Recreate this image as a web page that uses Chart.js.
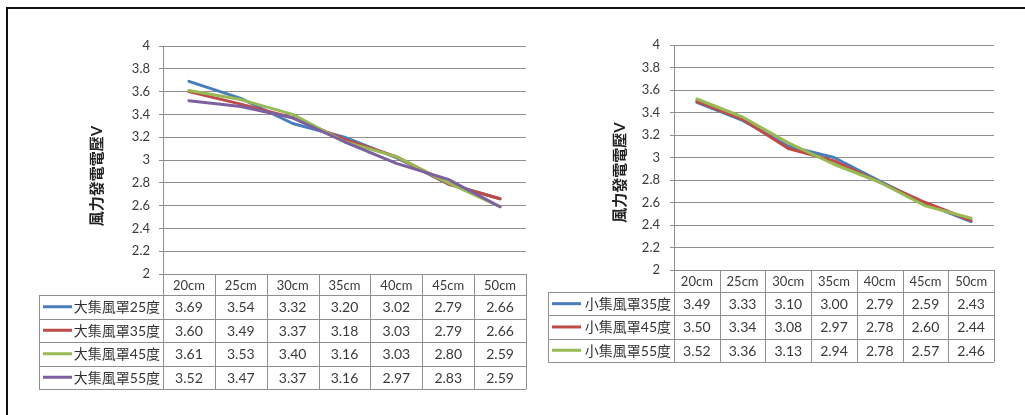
<!DOCTYPE html>
<html>
<head>
<meta charset="utf-8">
<script src="https://cdn.jsdelivr.net/npm/chart.js@4/dist/chart.umd.min.js"></script>
<style>
  body { margin: 0; background: #fff; width: 1025px; height: 415px; overflow: hidden; position: relative; }
  #frame { position: absolute; left: 6px; top: 7px; width: 1100px; height: 500px; border: 2px solid #111; }
  canvas { position: absolute; top: 0; }
  #left { left: 0; }
  #right { left: 530px; }
</style>
</head>
<body>
<div id="frame"></div>
<canvas id="left" width="530" height="415"></canvas>
<canvas id="right" width="495" height="415"></canvas>
<script>
const distances = ['20cm', '25cm', '30cm', '35cm', '40cm', '45cm', '50cm'];

// 大集風罩 series
const bigNames = ['大集風罩25度', '大集風罩35度', '大集風罩45度', '大集風罩55度'];
const big25 = [3.69, 3.54, 3.32, 3.20, 3.02, 2.79, 2.66];
const big35 = [3.60, 3.49, 3.37, 3.18, 3.03, 2.79, 2.66];
const big45 = [3.61, 3.53, 3.40, 3.16, 3.03, 2.80, 2.59];
const big55 = [3.52, 3.47, 3.37, 3.16, 2.97, 2.83, 2.59];

// 小集風罩 series
const smallNames = ['小集風罩35度', '小集風罩45度', '小集風罩55度'];
const small35 = [3.49, 3.33, 3.10, 3.00, 2.79, 2.59, 2.43];
const small45 = [3.50, 3.34, 3.08, 2.97, 2.78, 2.60, 2.44];
const small55 = [3.52, 3.36, 3.13, 2.94, 2.78, 2.57, 2.46];

const yTitle = '風力發電電壓V';
const yMin = 2, yMax = 4, yStep = 0.2;

const colors = ['#4a7ebb', '#be4b48', '#98b954', '#7d60a0'];
const gridColor = '#8f8f8f';
const textColor = '#3a3a3a';
const fam = 'Lato, "Noto Sans CJK TC", sans-serif';

Chart.defaults.font.family = fam;
Chart.defaults.animation = false;

// data table drawn under the plot, columns taken from the x scale
const tablePlugin = {
  id: 'dataTable',
  afterDraw(chart, args, opts) {
    const { ctx, chartArea } = chart;
    const xs = chart.scales.x;
    const n = chart.data.labels.length;
    const edges = [];
    for (let i = 0; i <= n; i++) {
      if (i === 0) edges.push(chartArea.left);
      else if (i === n) edges.push(chartArea.right);
      else edges.push((xs.getPixelForValue(i - 1) + xs.getPixelForValue(i)) / 2);
    }
    const top = chartArea.bottom;
    const rowsTop = top + opts.headerHeight;
    const sets = chart.data.datasets;
    const bottom = rowsTop + sets.length * opts.rowHeight;
    const px = v => Math.round(v) + 0.5;

    ctx.save();
    ctx.strokeStyle = gridColor;
    ctx.lineWidth = 1;
    ctx.beginPath();
    ctx.moveTo(edges[0], px(top));
    ctx.lineTo(edges[n], px(top));
    for (let r = 0; r <= sets.length; r++) {
      const y = px(rowsTop + r * opts.rowHeight);
      ctx.moveTo(opts.legendLeft, y);
      ctx.lineTo(edges[n], y);
    }
    edges.forEach(x => {
      ctx.moveTo(px(x), top);
      ctx.lineTo(px(x), bottom);
    });
    ctx.moveTo(px(opts.legendLeft), rowsTop);
    ctx.lineTo(px(opts.legendLeft), bottom);
    ctx.stroke();

    ctx.textBaseline = 'middle';
    ctx.textAlign = 'center';
    ctx.fillStyle = textColor;
    ctx.font = '13px ' + fam;
    chart.data.labels.forEach((lab, i) => {
      ctx.fillText(lab, (edges[i] + edges[i + 1]) / 2, top + opts.headerHeight / 2 + 1);
    });
    sets.forEach((ds, r) => {
      const cy = rowsTop + r * opts.rowHeight + opts.rowHeight / 2 + 1;
      ctx.textAlign = 'center';
      ctx.font = '14px ' + fam;
      ctx.fillStyle = textColor;
      ds.data.forEach((v, i) => {
        ctx.fillText(v.toFixed(2), (edges[i] + edges[i + 1]) / 2, cy);
      });
      // legend key
      ctx.strokeStyle = ds.borderColor;
      ctx.lineWidth = 3;
      ctx.beginPath();
      ctx.moveTo(opts.legendLeft + 4, cy - 1);
      ctx.lineTo(opts.legendLeft + 33, cy - 1);
      ctx.stroke();
      ctx.textAlign = 'right';
      ctx.fillStyle = '#333';
      ctx.fillText(ds.label, chartArea.left - 3, cy);
    });

    // axis title, sitting a bit below the middle of the plot like the original
    ctx.save();
    ctx.translate(opts.titleX, (chartArea.top + chartArea.bottom) / 2 + opts.titleShift);
    ctx.rotate(-Math.PI / 2);
    ctx.textAlign = 'center';
    ctx.fillStyle = '#222';
    ctx.font = 'bold 15px ' + fam;
    ctx.fillText(yTitle, 0, 0);
    ctx.restore();
    ctx.restore();
  }
};

function makeChart(id, names, series, geo) {
  return new Chart(document.getElementById(id), {
    type: 'line',
    data: {
      labels: distances,
      datasets: series.map((s, i) => ({
        label: names[i],
        data: s,
        borderColor: colors[i],
        backgroundColor: colors[i],
        borderWidth: 3,
        pointRadius: 0,
        tension: 0,
        borderCapStyle: 'round',
        borderJoinStyle: 'round',
        order: names.length - i
      }))
    },
    options: {
      responsive: false,
      events: [],
      layout: { padding: geo.padding },
      plugins: {
        legend: { display: false },
        tooltip: { enabled: false },
        dataTable: geo.table
      },
      scales: {
        x: { display: false, offset: true },
        y: {
          min: yMin,
          max: yMax,
          afterFit: scale => { scale.width = geo.axisWidth; },
          ticks: {
            stepSize: yStep,
            padding: geo.tickPad,
            color: textColor,
            font: { size: 13 },
            callback: v => String(Number(v.toFixed(1)))
          },
          grid: { color: gridColor, tickLength: 4 },
          border: { color: gridColor }
        }
      }
    },
    plugins: [tablePlugin]
  });
}

makeChart('left', bigNames, [big25, big35, big45, big55], {
  padding: { left: 85, right: 4, top: 46, bottom: 141 },
  axisWidth: 78,
  tickPad: 9,
  table: { legendLeft: 39, headerHeight: 21, rowHeight: 23.5, titleX: 97, titleShift: 16 }
});

makeChart('right', smallNames, [small35, small45, small55], {
  padding: { left: 78, right: 31, top: 45, bottom: 145 },
  axisWidth: 66,
  tickPad: 10,
  table: { legendLeft: 18, headerHeight: 22, rowHeight: 23.3, titleX: 90, titleShift: 15 }
});
</script>
</body>
</html>
